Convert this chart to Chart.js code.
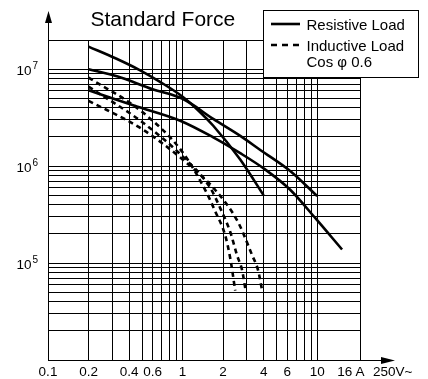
<!DOCTYPE html>
<html>
<head>
<meta charset="utf-8">
<script src="https://cdn.jsdelivr.net/npm/chart.js@4/dist/chart.umd.min.js"></script>
<style>
    html, body { margin: 0; padding: 0; background: #fff; }
    #wrap { width: 428px; height: 379px; }
</style>
</head>
<body>
<div id="wrap"><canvas id="chart" width="428" height="379"></canvas></div>
<script>
// 坐标轴范围
const xMin = 0.1;
const xMax = 20.8;
const yMin = 1e4;
const yMax = 2e7;

// 网格线与刻度标签
const xGridValues = [0.1, 0.2, 0.3, 0.4, 0.5, 0.6, 0.7, 0.8, 0.9, 1, 2, 3, 4, 5, 6, 7, 8, 9, 10, 16, 20.8];
const xLabelValues = [0.1, 0.2, 0.4, 0.6, 1, 2, 4, 6, 10, 16];
const xUnitLabel = 'A';
const xVoltLabel = '250V~';
const yGridValues = [
    1e4, 2e4, 3e4, 4e4, 5e4, 6e4, 7e4, 8e4, 9e4,
    1e5, 2e5, 3e5, 4e5, 5e5, 6e5, 7e5, 8e5, 9e5,
    1e6, 2e6, 3e6, 4e6, 5e6, 6e6, 7e6, 8e6, 9e6,
    1e7, 2e7
];
const yLabelExponents = [5, 6, 7];

// 文字
const titleText = 'Standard Force';
const legendResistive = 'Resistive Load';
const legendInductive = ['Inductive Load', 'Cos φ 0.6'];

// 阻性负载曲线 (实线)
const resist1X = [0.2, 0.32, 0.48, 0.68, 1.0, 1.35, 1.69, 2.68, 4.0];
const resist1Y = [1.71e7, 1.29e7, 9.8e6, 7.4e6, 5.2e6, 3.6e6, 2.61e6, 1.17e6, 5.0e5];
const resist2X = [0.2, 0.33, 0.6, 1.0, 1.7, 2.7, 3.8, 6.3, 10];
const resist2Y = [1.0e7, 8.4e6, 6.2e6, 4.95e6, 3.05e6, 2.04e6, 1.46e6, 8.9e5, 4.9e5];
const resist3X = [0.2, 0.44, 0.96, 1.69, 2.68, 4.1, 6.3, 9.8, 15.3];
const resist3Y = [6.05e6, 4.19e6, 2.94e6, 1.98e6, 1.36e6, 9.25e5, 5.71e5, 2.85e5, 1.38e5];

// 感性负载曲线 (虚线)
const induct1X = [0.2, 0.5, 1.0, 1.47, 1.74, 2.07, 2.26, 2.46];
const induct1Y = [8.2e6, 3.63e6, 1.39e6, 5.7e5, 3.46e5, 1.94e5, 1.12e5, 5.2e4];
const induct2X = [0.2, 0.5, 1.0, 1.6, 1.9, 2.26, 2.54, 2.77, 2.94];
const induct2Y = [6.6e6, 2.85e6, 1.26e6, 6.0e5, 3.71e5, 2.09e5, 1.2e5, 8.4e4, 5.2e4];
const induct3X = [0.2, 0.5, 1.0, 1.74, 2.58, 3.29, 3.64, 3.9];
const induct3Y = [4.72e6, 2.41e6, 1.17e6, 5.71e5, 2.65e5, 1.2e5, 8.4e4, 5.2e4];

const FONT = "'Liberation Sans', Arial, Helvetica, sans-serif";

function toPoints(xs, ys) {
    return xs.map((x, i) => ({ x: x, y: ys[i] }));
}

function makeSeries(xs, ys, dashed) {
    return {
        data: toPoints(xs, ys),
        borderColor: '#000',
        borderWidth: 2.6,
        borderDash: dashed ? [5, 4] : [],
        pointRadius: 0,
        fill: false,
        cubicInterpolationMode: 'monotone'
    };
}

// 标题、箭头、图例、纵轴标签
const decorations = {
    id: 'decorations',
    afterDraw(chart) {
        const ctx = chart.ctx;
        const area = chart.chartArea;
        const yScale = chart.scales.y;
        ctx.save();
        ctx.fillStyle = '#000';
        ctx.strokeStyle = '#000';

        // 标题
        ctx.font = '21px ' + FONT;
        ctx.textAlign = 'left';
        ctx.textBaseline = 'alphabetic';
        ctx.fillText(titleText, 90.5, 25.5);

        // 纵轴箭头
        const ax = Math.round(area.left) + 0.5;
        ctx.lineWidth = 1;
        ctx.beginPath();
        ctx.moveTo(ax, area.top);
        ctx.lineTo(ax, 20);
        ctx.stroke();
        ctx.beginPath();
        ctx.moveTo(ax, 11);
        ctx.lineTo(ax - 3.5, 23);
        ctx.lineTo(ax + 3.5, 23);
        ctx.closePath();
        ctx.fill();

        // 横轴箭头
        const ay = Math.round(area.bottom) + 0.5;
        ctx.beginPath();
        ctx.moveTo(area.right, ay);
        ctx.lineTo(384, ay);
        ctx.stroke();
        ctx.beginPath();
        ctx.moveTo(395, ay);
        ctx.lineTo(381, ay - 3.5);
        ctx.lineTo(381, ay + 3.5);
        ctx.closePath();
        ctx.fill();

        // 电压标签
        ctx.font = '13.5px ' + FONT;
        ctx.textBaseline = 'middle';
        ctx.fillText(xVoltLabel, 373, 372.5);

        // 纵轴 10^n 标签
        yLabelExponents.forEach(function(e) {
            const py = yScale.getPixelForValue(Math.pow(10, e));
            ctx.textBaseline = 'alphabetic';
            ctx.textAlign = 'right';
            ctx.font = '13.5px ' + FONT;
            ctx.fillText('10', 31.5, py + 6);
            ctx.textAlign = 'left';
            ctx.font = '10px ' + FONT;
            ctx.fillText(String(e), 32.5, py - 0.5);
        });

        // 图例
        ctx.fillStyle = '#fff';
        ctx.fillRect(263.5, 10.5, 155, 67);
        ctx.lineWidth = 1;
        ctx.strokeRect(263.5, 10.5, 155, 67);
        ctx.fillStyle = '#000';
        ctx.lineWidth = 2.6;
        ctx.beginPath();
        ctx.moveTo(271, 24);
        ctx.lineTo(300, 24);
        ctx.stroke();
        ctx.setLineDash([6, 5]);
        ctx.beginPath();
        ctx.moveTo(271, 45);
        ctx.lineTo(300, 45);
        ctx.stroke();
        ctx.setLineDash([]);
        ctx.font = '15px ' + FONT;
        ctx.textAlign = 'left';
        ctx.textBaseline = 'alphabetic';
        ctx.fillText(legendResistive, 306.5, 29.5);
        ctx.fillText(legendInductive[0], 306.5, 50.5);
        ctx.fillText(legendInductive[1], 306.5, 67);

        ctx.restore();
    }
};

const chart = new Chart(document.getElementById('chart').getContext('2d'), {
    type: 'line',
    data: {
        datasets: [
            makeSeries(resist1X, resist1Y, false),
            makeSeries(resist2X, resist2Y, false),
            makeSeries(resist3X, resist3Y, false),
            makeSeries(induct1X, induct1Y, true),
            makeSeries(induct2X, induct2Y, true),
            makeSeries(induct3X, induct3Y, true)
        ]
    },
    options: {
        responsive: false,
        animation: false,
        layout: {
            padding: { left: 0, top: 40, right: 68, bottom: 0 }
        },
        plugins: {
            legend: { display: false },
            title: { display: false },
            tooltip: { enabled: false }
        },
        scales: {
            x: {
                type: 'logarithmic',
                min: xMin,
                max: xMax,
                afterBuildTicks: function(scale) {
                    scale.ticks = xGridValues.map(v => ({ value: v }));
                },
                afterFit: function(scale) {
                    scale.height = 19;
                },
                grid: {
                    color: function(c) {
                        return c.tick && c.tick.value === 16 ? 'rgba(0,0,0,0)' : '#000';
                    },
                    lineWidth: 1,
                    drawTicks: false
                },
                border: { display: true, color: '#000', width: 1 },
                ticks: {
                    autoSkip: false,
                    maxRotation: 0,
                    padding: 4,
                    color: '#000',
                    font: { family: FONT, size: 13.5 },
                    callback: function(value) {
                        if (value === xMax) return xUnitLabel;
                        return xLabelValues.indexOf(value) >= 0 ? String(value) : '';
                    }
                }
            },
            y: {
                type: 'logarithmic',
                min: yMin,
                max: yMax,
                afterBuildTicks: function(scale) {
                    scale.ticks = yGridValues.map(v => ({ value: v }));
                },
                afterFit: function(scale) {
                    scale.width = 48;
                },
                grid: {
                    color: '#000',
                    lineWidth: 1,
                    drawTicks: false
                },
                border: { display: true, color: '#000', width: 1 },
                ticks: { display: false }
            }
        }
    },
    plugins: [decorations]
});
</script>
</body>
</html>
